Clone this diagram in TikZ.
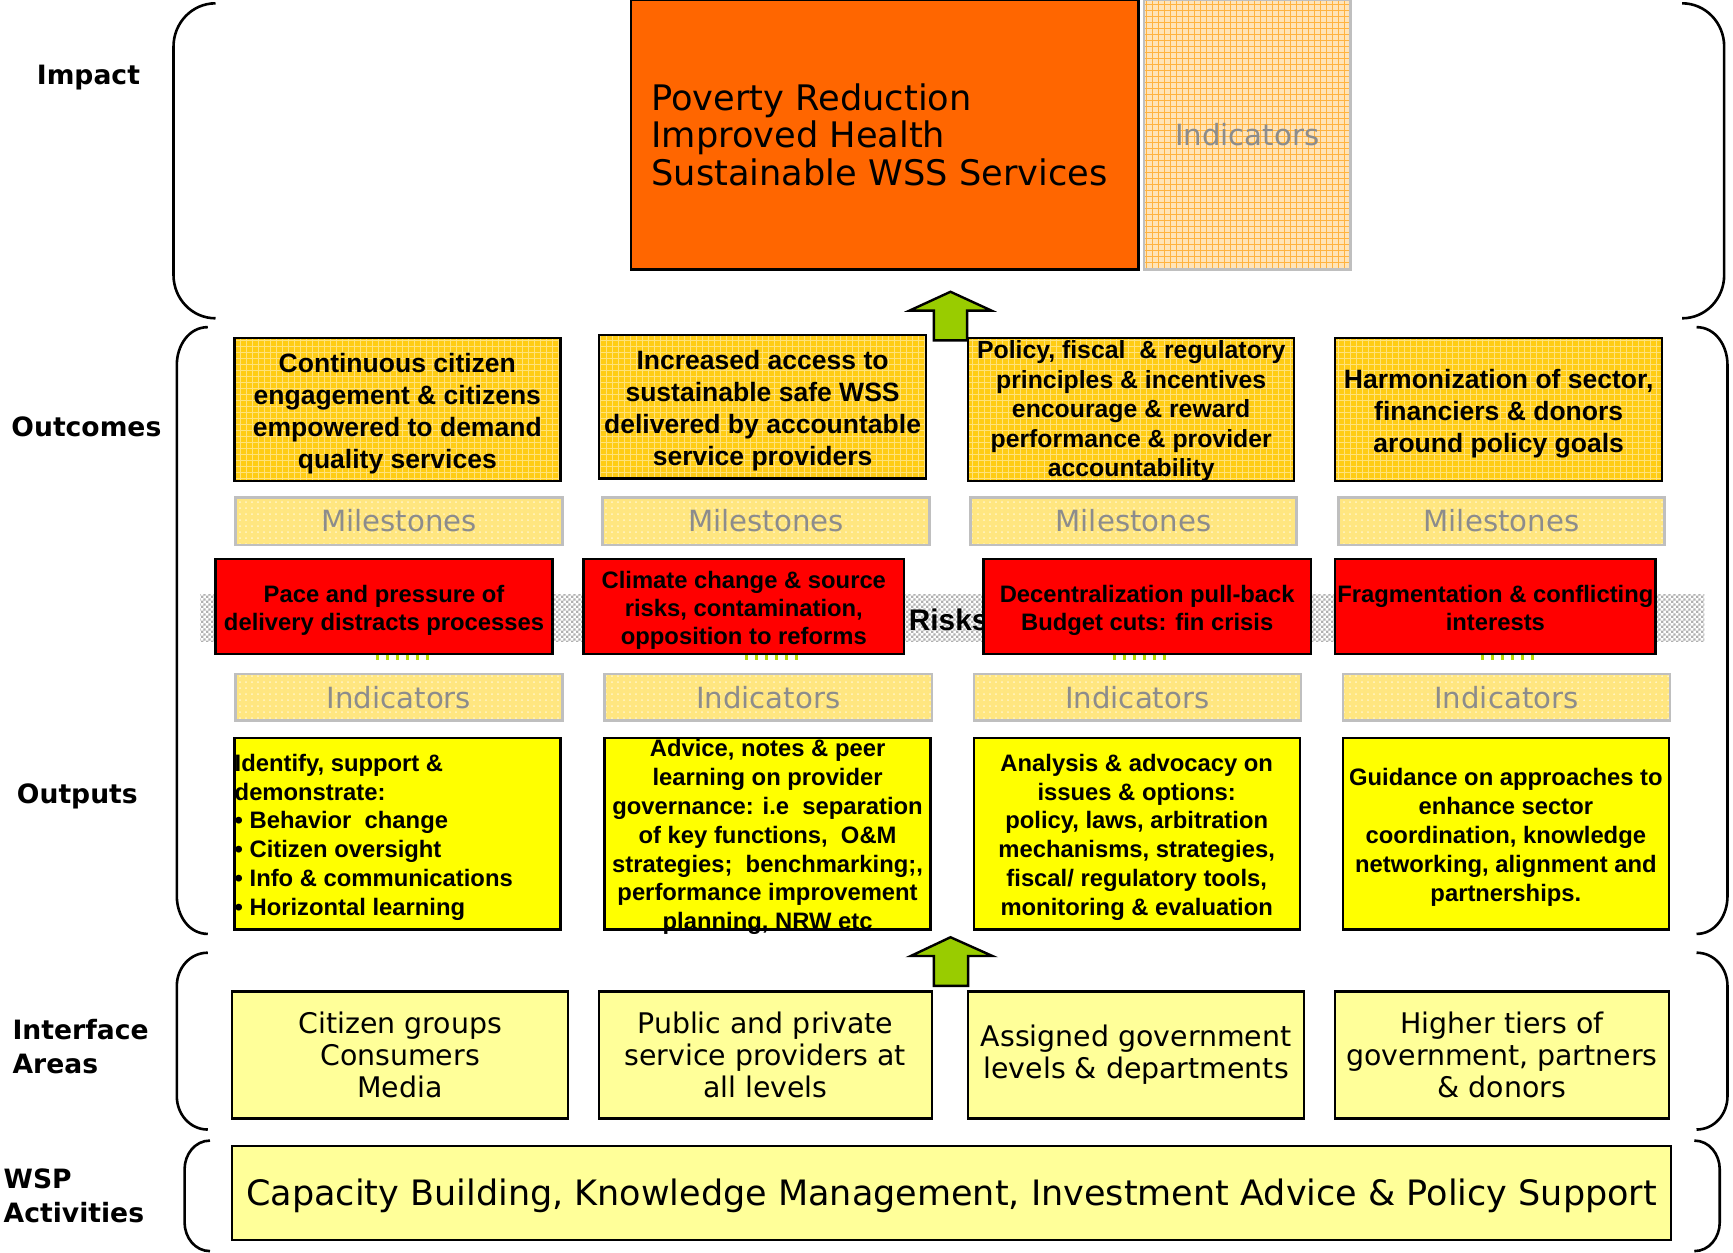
\documentclass[tikz,border=0pt]{standalone}
\usepackage{fontspec}
\setmainfont{Liberation Sans}
\newfontfamily\dv{DejaVu Sans}
\usetikzlibrary{fit,patterns}
\pgfdeclarepatternformonly{finecheck}{\pgfpointorigin}{\pgfqpoint{2.4pt}{2.4pt}}{\pgfqpoint{2.4pt}{2.4pt}}%
{\pgfpathrectangle{\pgfpointorigin}{\pgfqpoint{1.2pt}{1.2pt}}\pgfpathrectangle{\pgfqpoint{1.2pt}{1.2pt}}{\pgfqpoint{1.2pt}{1.2pt}}\pgfusepath{fill}}
\definecolor{orangeC}{HTML}{FF6600}
\definecolor{goldC}{HTML}{FFCC14}
\definecolor{goldGrid}{HTML}{FFE27A}
\definecolor{paleC}{HTML}{FFE680}
\definecolor{paleDot}{HTML}{FFF6CC}
\definecolor{indC}{HTML}{FFE4B8}
\definecolor{indGrid}{HTML}{FFB340}
\definecolor{redC}{HTML}{FF0000}
\definecolor{yelC}{HTML}{FFFF00}
\definecolor{ifC}{HTML}{FFFF99}
\definecolor{greenC}{HTML}{99CC00}
\definecolor{grayT}{HTML}{8C8C8C}
\definecolor{grayB}{HTML}{BFBFBF}
\tikzset{
  box/.style={inner sep=0pt, line width=1.2pt, draw=black},
  impactbox/.style={box, fill=orangeC},
  indtopbox/.style={inner sep=0pt, line width=1.2pt, draw=grayB, preaction={fill=indC}, pattern=grid, pattern color=indGrid},
  outcomebox/.style={box, preaction={fill=goldC}, pattern=grid, pattern color=goldGrid},
  palebox/.style={inner sep=0pt, line width=1.2pt, draw=grayB, preaction={fill=paleC}, pattern=dots, pattern color=paleDot},
  riskbox/.style={box, fill=redC},
  outputbox/.style={box, fill=yelC},
  ifbox/.style={box, fill=ifC},
  bracket/.style={line width=1.3pt, draw=black},
  tb/.style={font=\fontsize{13.26}{16}\selectfont\bfseries, align=center, inner sep=0pt, yshift=-1.9pt},
  tb3/.style={font=\fontsize{12.4}{14.75}\selectfont\bfseries, align=center, inner sep=0pt, yshift=-1.9pt},
  rt/.style={font=\fontsize{11.9}{14}\selectfont\bfseries, align=center, inner sep=0pt, yshift=-1.7pt},
  ot/.style={font=\fontsize{11.9}{14.4}\selectfont\bfseries, align=center, inner sep=0pt, yshift=-1.7pt},
  gt/.style={font=\dv\fontsize{14.6}{17}\selectfont, text=grayT, inner sep=0pt},
  it/.style={font=\dv\fontsize{14.2}{16}\selectfont, align=center, inner sep=0pt},
  lab/.style={font=\dv\bfseries\fontsize{13.3}{16.6}\selectfont, align=left, anchor=west, inner sep=0pt},
  arrowshape/.style={fill=greenC, draw=black, line width=1.2pt, line join=miter},
  marks/.style={draw=greenC!70!yellow, line width=2.2pt, dash pattern=on 1.5pt off 3.5pt},
}
\begin{document}
\begin{tikzpicture}[x=0.5526pt, y=-0.5526pt]
\useasboundingbox[fill=white] (0,0) rectangle (1568,1133);

% ---------- brackets ----------
\draw[bracket] (195,3) to[out=180,in=90] (157,42) -- (157,249) to[out=-90,in=180] (195,288);
\draw[bracket] (1522,3) to[out=0,in=90] (1560,42) -- (1560,249) to[out=-90,in=0] (1522,288);
\draw[bracket] (188,296) to[out=180,in=90] (160,330) -- (160,811) to[out=-90,in=180] (188,845);
\draw[bracket] (1535,296) to[out=0,in=90] (1563,330) -- (1563,811) to[out=-90,in=0] (1535,845);
\draw[bracket] (188,862) to[out=180,in=90] (160,892) -- (160,992) to[out=-90,in=180] (188,1022);
\draw[bracket] (1535,862) to[out=0,in=90] (1563,892) -- (1563,992) to[out=-90,in=0] (1535,1022);
\draw[bracket] (190,1032) to[out=180,in=90] (167,1058) -- (167,1106) to[out=-90,in=180] (190,1132);
\draw[bracket] (1533,1032) to[out=0,in=90] (1556,1058) -- (1556,1106) to[out=-90,in=0] (1533,1132);

% ---------- left labels ----------
\node[lab] (lImpact) at (33,70) {Impact};
\node[lab] (lOutcomes) at (10,386) {Outcomes};
\node[lab] (lOutputs) at (15,721) {Outputs};
\node[lab] (lInterface) at (11,947) {Interface\\Areas};
\node[lab] (lWSP) at (3,1082) {WSP\\Activities};

% ---------- impact ----------
\node[impactbox, fit={(571,0)(1030,244)}] (impact) {};
\node[font=\dv\fontsize{17.6}{18.8}\selectfont, align=left, anchor=west, inner sep=0pt] (impactT) at (589,122)
  {Poverty Reduction\\Improved Health\\Sustainable WSS Services};
\node[indtopbox, fit={(1035,0)(1222,244)}] (indTop) {};
\node[gt] (indTopT) at (indTop) {Indicators};

% ---------- arrows ----------
\draw[arrowshape] (845,308) -- (845,281) -- (823,281) -- (860,264) -- (897,281) -- (875,281) -- (875,308) -- cycle;
\draw[arrowshape] (845,892) -- (845,865) -- (824,865) -- (860,848) -- (898,865) -- (876,865) -- (876,892) -- cycle;

% ---------- outcomes ----------
\node[outcomebox, fit={(212,306)(507,435)}] (o1) {};
\node[outcomebox, fit={(542,303)(838,433)}] (o2) {};
\node[outcomebox, fit={(876,306)(1171,435)}] (o3) {};
\node[outcomebox, fit={(1208,306)(1504,435)}] (o4) {};
\node[tb] (o1t) at (o1) {Continuous citizen\\engagement \& citizens\\empowered to demand\\quality services};
\node[tb] (o2t) at (o2) {Increased access to\\sustainable safe WSS\\delivered by accountable\\service providers};
\node[tb3] (o3t) at ([yshift=1pt]o3.center) {Policy, fiscal~ \& regulatory\\principles \& incentives\\encourage \& reward\\performance \& provider\\accountability};
\node[tb] (o4t) at (o4) {Harmonization of sector,\\financiers \& donors\\around policy goals};

% ---------- milestones ----------
\node[palebox, fit={(213,450)(509,493)}] (m1) {};
\node[palebox, fit={(545,450)(841,493)}] (m2) {};
\node[palebox, fit={(878,450)(1173,493)}] (m3) {};
\node[palebox, fit={(1211,450)(1506,493)}] (m4) {};
\node[gt] (m1t) at (m1) {Milestones};
\node[gt] (m2t) at (m2) {Milestones};
\node[gt] (m3t) at (m3) {Milestones};
\node[gt] (m4t) at (m4) {Milestones};

% ---------- risks ----------
\node[inner sep=0pt, preaction={fill=white}, pattern=finecheck, pattern color=gray!62, fit={(181,538)(1542,580)}] (band) {};
\node[font=\fontsize{14.9}{16}\selectfont\bfseries, anchor=west, inner sep=0pt] (risksT) at (822,561) {Risks};
\draw[marks] (340,595) -- (388,595);
\draw[marks] (674,595) -- (722,595);
\draw[marks] (1007,595) -- (1055,595);
\draw[marks] (1340,595) -- (1388,595);
\node[riskbox, fit={(195,506)(500,592)}] (r1) {};
\node[riskbox, fit={(528,506)(818,592)}] (r2) {};
\node[riskbox, fit={(890,506)(1186,592)}] (r3) {};
\node[riskbox, fit={(1208,506)(1498,592)}] (r4) {};
\node[rt] (r1t) at (r1) {Pace and pressure of\\delivery distracts processes};
\node[rt] (r2t) at (r2) {Climate change \& source\\risks, contamination,\\opposition to reforms};
\node[rt] (r3t) at (r3) {Decentralization pull-back\\Budget cuts: fin crisis};
\node[rt] (r4t) at ([yshift=1pt]r4.center) {Fragmentation \& conflicting\\interests};

% ---------- indicators ----------
\node[palebox, fit={(213,610)(509,652)}] (i1) {};
\node[palebox, fit={(547,610)(843,652)}] (i2) {};
\node[palebox, fit={(881,610)(1177,652)}] (i3) {};
\node[palebox, fit={(1215,610)(1511,652)}] (i4) {};
\node[gt] (i1t) at (i1) {Indicators};
\node[gt] (i2t) at (i2) {Indicators};
\node[gt] (i3t) at (i3) {Indicators};
\node[gt] (i4t) at (i4) {Indicators};

% ---------- outputs ----------
\node[outputbox, fit={(212,668)(507,841)}] (p1) {};
\node[outputbox, fit={(547,668)(842,841)}] (p2) {};
\node[outputbox, fit={(881,668)(1176,841)}] (p3) {};
\node[outputbox, fit={(1215,668)(1510,841)}] (p4) {};
\node[ot, align=left, anchor=west] (p1t) at ([xshift=0.6pt]p1.west) {Identify, support \&\\demonstrate:\\• Behavior~ change\\• Citizen oversight\\• Info \& communications\\• Horizontal learning};
\node[ot] (p2t) at (p2) {Advice, notes \& peer\\learning on provider\\governance: i.e~ separation\\of key functions,~ O\&M\\strategies;~ benchmarking;,\\performance improvement\\planning, NRW etc};
\node[ot] (p3t) at (p3) {Analysis \& advocacy on\\issues \& options:\\policy, laws, arbitration\\mechanisms, strategies,\\fiscal/ regulatory tools,\\monitoring \& evaluation};
\node[ot] (p4t) at (p4) {Guidance on approaches to\\enhance sector\\coordination, knowledge\\networking, alignment and\\partnerships.};

% ---------- interface areas ----------
\node[ifbox, fit={(210,897)(514,1012)}] (f1) {};
\node[ifbox, fit={(542,897)(843,1012)}] (f2) {};
\node[ifbox, fit={(876,897)(1180,1012)}] (f3) {};
\node[ifbox, fit={(1208,897)(1510,1012)}] (f4) {};
\node[it] (f1t) at (f1) {Citizen groups\\Consumers\\Media};
\node[it] (f2t) at (f2) {Public and private\\service providers at\\all levels};
\node[it] (f3t) at (f3) {Assigned government\\levels \& departments};
\node[it] (f4t) at (f4) {Higher tiers of\\government, partners\\\& donors};

% ---------- WSP activities ----------
\node[ifbox, fit={(210,1037)(1512,1122)}] (wsp) {};
\node[font=\dv\fontsize{17.5}{19}\selectfont, inner sep=0pt, yshift=-1.4pt] (wspT) at (wsp) {Capacity Building, Knowledge Management, Investment Advice \& Policy Support};
\end{tikzpicture}
\end{document}
